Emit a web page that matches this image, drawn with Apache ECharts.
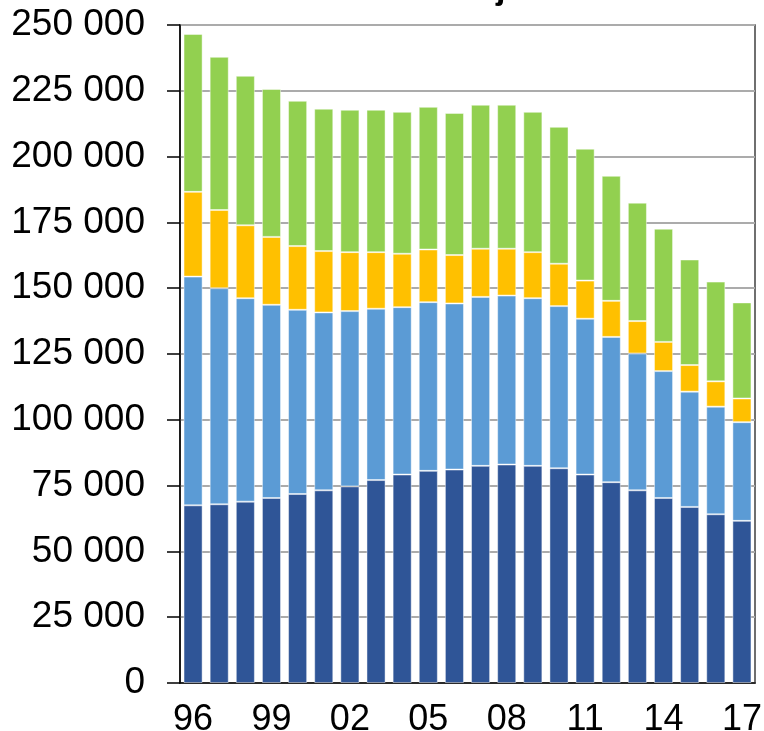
<!DOCTYPE html>
<html>
<head>
<meta charset="utf-8">
<script src="https://cdn.jsdelivr.net/npm/echarts@6/dist/echarts.min.js"></script>
<style>
  html, body { margin: 0; padding: 0; background: #fff; }
  #view { width: 764px; height: 731px; }
</style>
</head>
<body>
<div id="view"></div>
<script>
// years 1996 - 2017
var years = ['96','97','98','99','00','01','02','03','04','05','06','07','08','09','10','11','12','13','14','15','16','17'];
// stacked segments, bottom to top
var darkBlue = [67500,67900,68900,70300,71800,73200,74700,77100,79200,80600,81100,82500,83000,82500,81600,79200,76300,73200,70300,66900,64100,61600];
var lightBlue = [86900,82100,77300,73400,70000,67600,66600,65100,63600,64100,63100,64200,64200,63700,61600,59200,55200,52000,48200,43800,40900,37500];
var yellow = [32200,29700,27700,25800,24200,23300,22400,21500,20300,20000,18400,18300,17800,17500,16100,14500,13700,12300,11100,10100,9600,9000];
var green = [60000,58200,56800,56200,55200,54100,54100,54100,53900,54200,54000,54700,54700,53300,52000,50100,47500,45000,43000,40100,37900,36500];

var myChart = echarts.init(document.getElementById('view'));

function fmt(v) {
    return String(v).replace(/\B(?=(\d{3})+(?!\d))/g, ' ');
}

function bar(name, data, color) {
    return {
        name: name,
        type: 'bar',
        stack: 'all',
        data: data,
        barCategoryGap: '27%',
        itemStyle: {color: color, borderColor: 'rgba(255,255,255,0.45)', borderWidth: 1},
        animation: false
    };
}

var option = {
    backgroundColor: '#ffffff',
    graphic: [{
        type: 'text',
        left: 496,
        top: -27,
        style: {text: 'j', font: 'bold 34px "Liberation Sans", Arial', fill: '#000'}
    }],
    grid: {
        left: 180,
        right: 9,
        top: 25,
        bottom: 48,
        outerBoundsMode: 'none',
        show: true,
        borderColor: '#404040',
        borderWidth: 1.5
    },
    xAxis: {
        type: 'category',
        data: years,
        axisLine: {lineStyle: {color: '#000', width: 1.5}},
        axisTick: {show: false},
        axisLabel: {
            interval: 2,
            color: '#000',
            fontSize: 36,
            fontFamily: '"Liberation Sans", Arial',
            margin: 19
        }
    },
    yAxis: {
        type: 'value',
        min: 0,
        max: 250000,
        interval: 25000,
        axisLine: {show: true, lineStyle: {color: '#000', width: 1.5}},
        axisTick: {show: true, length: 13, lineStyle: {color: '#000', width: 1.5}},
        splitLine: {lineStyle: {color: '#ABABAB', width: 2}},
        axisLabel: {
            color: '#000',
            fontSize: 37,
            fontFamily: '"Liberation Sans", Arial',
            margin: 35,
            formatter: fmt
        }
    },
    series: [
        bar('s1', darkBlue, '#2F5597'),
        bar('s2', lightBlue, '#5B9BD5'),
        bar('s3', yellow, '#FFC000'),
        bar('s4', green, '#92D050')
    ]
};
myChart.setOption(option);
</script>
</body>
</html>
